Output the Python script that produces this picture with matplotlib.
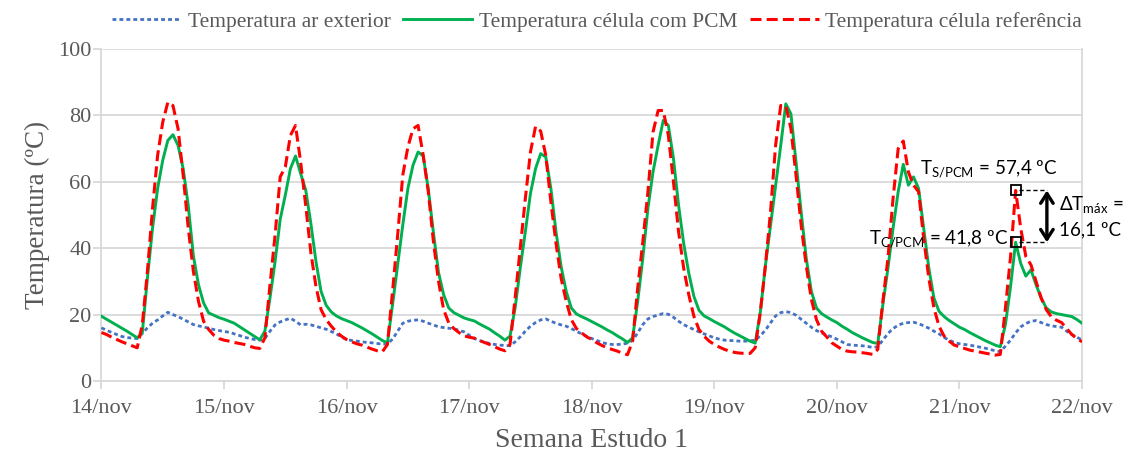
import numpy as np
import matplotlib
matplotlib.use("Agg")
import matplotlib.pyplot as plt

# hourly readings, 14/nov 00h to 22/nov 00h (ºC)
ar_exterior = [
    16.0, 15.3, 14.6, 14.0, 13.4, 13.1, 12.9, 12.8, 14.3, 16.0, 17.4, 18.4, 19.6, 20.7, 20.0, 19.4, 18.6, 17.8, 17.0, 16.6, 16.3, 15.9, 15.5, 15.2,
    14.9, 14.7, 14.2, 13.7, 13.2, 12.8, 12.5, 12.3, 12.8, 15.0, 16.9, 17.8, 18.4, 18.9, 18.0, 16.9, 17.1, 16.9, 16.5, 16.0, 15.6, 14.9, 14.2, 13.2,
    12.5, 12.2, 12.0, 11.8, 11.6, 11.5, 11.3, 11.1, 11.2, 12.6, 15.0, 17.4, 18.0, 18.3, 18.4, 18.0, 17.4, 16.9, 16.3, 16.1, 15.9, 15.7, 15.3, 14.8,
    13.8, 12.8, 12.2, 11.7, 11.3, 11.0, 10.8, 10.7, 10.6, 11.8, 13.3, 15.0, 16.5, 17.6, 18.4, 18.7, 18.0, 17.4, 16.9, 16.5, 15.8, 15.0, 14.2, 13.5,
    12.8, 12.2, 11.6, 11.2, 11.0, 11.0, 11.1, 11.4, 12.2, 14.5, 17.0, 18.7, 19.4, 19.9, 20.3, 20.1, 19.2, 18.0, 17.0, 16.2, 15.5, 14.8, 14.2, 13.6,
    13.0, 12.6, 12.3, 12.2, 12.1, 12.0, 12.0, 12.1, 12.3, 13.6, 15.3, 17.5, 19.6, 20.6, 20.9, 20.6, 19.8, 18.6, 17.4, 16.2, 15.2, 14.5, 13.9, 13.3,
    12.6, 11.8, 11.0, 10.8, 10.7, 10.6, 10.4, 10.1, 10.3, 12.3, 14.3, 15.8, 16.8, 17.4, 17.6, 17.7, 17.3, 16.6, 15.9, 15.0, 14.2, 13.1, 12.3, 11.6,
    11.2, 11.0, 10.8, 10.5, 10.2, 9.9, 9.5, 9.1, 8.8, 10.5, 12.3, 14.5, 16.3, 17.3, 18.0, 18.2, 17.6, 17.0, 16.6, 16.4, 16.2, 15.0, 14.0, 13.2,
    12.3,
]

celula_pcm = [
    19.5, 18.6, 17.7, 16.8, 15.9, 15.0, 14.0, 13.0, 14.5, 31.0, 46.0, 58.0, 66.5, 72.5, 74.2, 71.0, 64.0, 52.8, 37.7, 29.0, 23.5, 20.5, 19.8, 19.1,
    18.6, 18.0, 17.4, 16.4, 15.4, 14.4, 13.4, 12.4, 15.0, 25.0, 36.0, 48.7, 56.0, 64.0, 67.8, 62.5, 57.5, 47.5, 36.0, 27.0, 22.8, 20.8, 19.6, 18.8,
    18.2, 17.6, 16.8, 16.0, 15.1, 14.2, 13.2, 12.2, 11.5, 23.0, 35.0, 47.0, 58.0, 65.0, 69.0, 67.8, 57.8, 44.7, 32.7, 26.0, 22.0, 20.6, 19.8, 19.0,
    18.5, 18.1, 17.2, 16.4, 15.6, 14.5, 13.5, 12.3, 13.5, 22.0, 34.0, 45.0, 56.5, 64.0, 68.5, 67.5, 58.0, 45.0, 34.5, 27.0, 22.0, 20.2, 19.4, 18.7,
    17.9, 17.1, 16.3, 15.4, 14.6, 13.6, 12.7, 11.6, 13.0, 24.0, 37.0, 52.0, 63.0, 71.0, 78.5, 77.0, 67.0, 53.0, 41.5, 32.5, 25.5, 21.3, 19.6, 18.8,
    17.9, 17.1, 16.3, 15.3, 14.4, 13.6, 12.8, 12.0, 11.4, 20.6, 34.7, 46.7, 58.8, 70.9, 83.5, 80.5, 66.0, 51.0, 37.0, 27.0, 22.0, 20.3, 19.3, 18.4,
    17.6, 16.5, 15.6, 14.6, 13.8, 13.0, 12.3, 11.6, 11.3, 23.0, 34.0, 46.0, 57.0, 65.3, 59.0, 61.5, 58.0, 46.0, 34.0, 25.0, 21.0, 19.4, 18.2, 17.2,
    16.2, 15.5, 14.6, 13.8, 13.0, 12.2, 11.5, 10.8, 10.3, 17.0, 28.4, 41.8, 35.4, 31.6, 33.5, 29.0, 25.0, 22.0, 20.8, 20.3, 20.0, 19.7, 19.4, 18.5,
    17.4,
]

celula_ref = [
    14.6, 14.0, 13.2, 12.5, 11.8, 11.2, 10.6, 10.0, 17.0, 33.0, 52.0, 68.0, 78.0, 84.0, 83.0, 76.0, 62.0, 46.0, 33.0, 24.0, 18.0, 15.5, 13.8, 12.8,
    12.3, 12.0, 11.6, 11.3, 11.0, 10.5, 10.0, 9.8, 13.0, 29.0, 44.0, 61.5, 64.5, 74.0, 77.0, 66.0, 52.8, 38.7, 28.5, 21.5, 18.5, 16.5, 14.8, 13.5,
    12.5, 11.8, 11.2, 10.8, 10.2, 9.6, 9.1, 8.8, 11.0, 27.0, 44.0, 62.0, 70.5, 76.0, 77.0, 68.0, 57.0, 42.0, 30.0, 21.5, 17.5, 15.8, 14.6, 13.6,
    13.2, 12.9, 12.2, 11.6, 11.0, 10.3, 9.6, 9.1, 11.0, 25.0, 40.0, 55.0, 69.0, 76.7, 75.3, 68.0, 54.0, 41.5, 31.0, 24.0, 18.5, 15.8, 14.5, 13.3,
    12.5, 11.5, 10.7, 10.0, 9.5, 9.0, 8.4, 7.9, 12.0, 28.0, 42.0, 57.0, 75.0, 81.5, 81.5, 74.0, 60.0, 45.0, 34.0, 26.0, 19.5, 15.5, 13.5, 12.0,
    11.0, 10.2, 9.5, 9.0, 8.6, 8.4, 8.3, 8.3, 10.0, 20.6, 34.7, 50.8, 71.0, 83.0, 83.0, 76.0, 62.0, 47.0, 34.7, 24.6, 18.5, 15.0, 13.3, 11.5,
    10.5, 9.5, 9.0, 8.8, 8.7, 8.5, 8.3, 8.0, 9.5, 24.0, 37.0, 55.0, 70.0, 72.3, 63.0, 59.0, 57.0, 43.0, 31.0, 22.0, 16.5, 13.5, 12.0, 10.8,
    10.3, 9.8, 9.3, 9.0, 8.7, 8.4, 8.1, 7.8, 8.0, 22.0, 37.4, 57.4, 46.0, 37.5, 35.0, 30.0, 25.0, 21.5, 19.3, 18.3, 17.6, 15.8, 14.0, 12.8,
    11.8,
]

dias = ['14/nov', '15/nov', '16/nov', '17/nov', '18/nov', '19/nov', '20/nov', '21/nov', '22/nov']

# hour of the maximum difference on 21/nov
hora_dtmax = 7 * 24 + 11
t_sem_pcm = 57.4
t_com_pcm = 41.8
dt_max = 16.1

plt.rcParams['font.family'] = ['Liberation Serif', 'DejaVu Serif']
plt.rcParams['mathtext.fontset'] = 'custom'
plt.rcParams['mathtext.rm'] = 'Lato'

cinza = '#595959'
grelha = '#d9d9d9'

x = np.arange(len(celula_ref)) / 24.0

fig = plt.figure(figsize=(11.31, 4.59), dpi=100)
ax = fig.add_axes([0.0897, 0.170, 0.8670, 0.723])

ax.plot(x, ar_exterior, color='#4472C4', lw=2.0, dashes=(1.4, 1.1),
        label='Temperatura ar exterior', zorder=3)
ax.plot(x, celula_pcm, color='#00B050', lw=2.1,
        label='Temperatura célula com PCM', zorder=4)
ax.plot(x, celula_ref, color='#FF0000', lw=2.2, dashes=(3.6, 1.7),
        label='Temperatura célula referência', zorder=5)

ax.set_xlim(0, 8)
ax.set_ylim(0, 100)
ax.set_xticks(range(9))
ax.set_xticklabels(dias)
ax.set_yticks(range(0, 101, 20))
ax.grid(axis='y', color=grelha, lw=1.3)
ax.set_axisbelow(True)
ax.tick_params(axis='both', colors=grelha, labelcolor=cinza, labelsize=16,
               length=6, width=1.3)
ax.tick_params(axis='x', pad=7)
ax.tick_params(axis='y', pad=1)
for lado in ['left', 'bottom', 'right']:
    ax.spines[lado].set_color(grelha)
    ax.spines[lado].set_linewidth(1.3)
ax.spines['top'].set_visible(False)

ax.set_ylabel('Temperatura (ºC)', color=cinza, fontsize=19.5, labelpad=6)
ax.set_xlabel('Semana Estudo 1', color=cinza, fontsize=20, labelpad=7)

fig.legend(loc='center', bbox_to_anchor=(0.528, 0.953), ncol=3,
           frameon=False, fontsize=15.5, handlelength=3.2, columnspacing=0.6,
           handletextpad=0.3, labelcolor=cinza)

# maximum difference annotation
xm = x[hora_dtmax]
ax.plot([xm, xm], [t_sem_pcm, t_com_pcm], ls='none', marker='s', ms=7,
        mfc='none', mec='black', mew=1.3, zorder=6)
xs = xm + 0.255
ax.plot([xm + 0.03, xs], [t_sem_pcm, t_sem_pcm], color='black', lw=1, ls=(0, (3, 2)), zorder=6)
ax.plot([xm + 0.03, xs], [t_com_pcm, t_com_pcm], color='black', lw=1, ls=(0, (3, 2)), zorder=6)
ax.annotate('', xy=(xs, t_com_pcm), xytext=(xs, t_sem_pcm),
            arrowprops=dict(arrowstyle='<->,head_length=0.7,head_width=0.45',
                            color='black', lw=2.4, shrinkA=0, shrinkB=0), zorder=6)

anot = dict(fontsize=13.5, family=['Lato', 'DejaVu Sans'], color='black', zorder=7)
ax.text(6.68, 63.8, r'T$_{\mathrm{S/PCM}}$ = %s ºC' % str(t_sem_pcm).replace('.', ','),
        va='center', ha='left', **anot)
ax.text(6.26, 42.8, r'T$_{\mathrm{C/PCM}}$ = %s ºC' % str(t_com_pcm).replace('.', ','),
        va='center', ha='left', **anot)
ax.text(xs + 0.1, 53.0, r'ΔT$_{\mathrm{máx}}$ =', va='center', ha='left', **anot)
ax.text(xs + 0.1, 45.5, '%s ºC' % str(dt_max).replace('.', ','),
        va='center', ha='left', **anot)

fig.savefig('out.png', dpi=100)
